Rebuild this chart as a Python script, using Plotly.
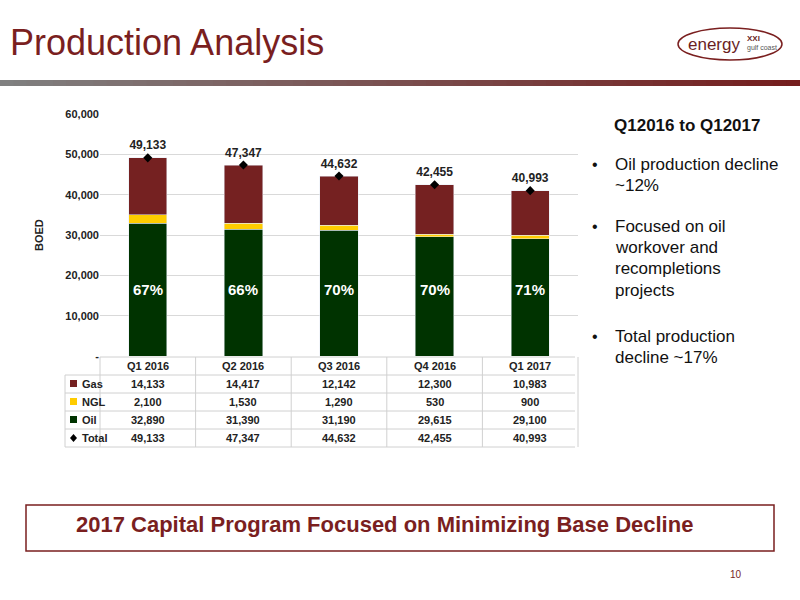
import plotly.graph_objects as go

quarters = ["Q1 2016", "Q2 2016", "Q3 2016", "Q4 2016", "Q1 2017"]
gas = [14133, 14417, 12142, 12300, 10983]
ngl = [2100, 1530, 1290, 530, 900]
oil = [32890, 31390, 31190, 29615, 29100]
total = [49133, 47347, 44632, 42455, 40993]
y_ticks = [0, 10000, 20000, 30000, 40000, 50000, 60000]
y_tick_text = ["-", "10,000", "20,000", "30,000", "40,000", "50,000", "60,000"]

C_OIL, C_NGL, C_GAS = "#003300", "#ffcc00", "#752121"
F = "Liberation Sans, Arial, sans-serif"

fig = go.Figure()
fig.add_bar(x=quarters, y=oil, marker_color=C_OIL, name="Oil")
fig.add_bar(x=quarters, y=ngl, marker_color=C_NGL, name="NGL")
fig.add_bar(x=quarters, y=gas, marker_color=C_GAS, name="Gas")
fig.add_scatter(x=quarters, y=total, mode="markers+text", marker=dict(symbol="diamond", size=7, color="black"),
                text=[f"<b>{v:,}</b>" for v in total], textposition="top center",
                textfont=dict(family=F, size=12, color="#222"), cliponaxis=False, name="Total")

W, H = 800, 600
X0, X1 = 100, 578
Y0, Y1 = 356, 114
fig.update_layout(
    width=W, height=H, margin=dict(l=0, r=0, t=0, b=0, autoexpand=False), barmode="stack", bargap=0.6,
    plot_bgcolor="white", paper_bgcolor="white", showlegend=False,
    xaxis=dict(domain=[X0 / W, X1 / W], showticklabels=False, showline=False),
    yaxis=dict(domain=[1 - Y0 / H, 1 - Y1 / H], range=[0, 60000], tickvals=y_ticks, ticktext=y_tick_text,
               showgrid=True, gridcolor="#d9d9d9", zeroline=False, ticks="", ticklen=0,
               tickfont=dict(family=F, size=11, color="#222", weight="bold")),
    font=dict(family=F),
)

ann = []
shapes = []
def A(x, y, t, **k):
    d = dict(x=x, y=y, text=t, showarrow=False, xref="paper", yref="paper", yanchor="middle")
    d.update(k)
    ann.append(d)

for q, o, t in zip(quarters, oil, total):
    ann.append(dict(x=q, y=16500, xref="x", yref="y", text=f"<b>{round(o / t * 100)}%</b>", showarrow=False,
                    font=dict(family=F, size=15, color="white")))

A(8 / W, 1 - 42 / H, "Production Analysis", xanchor="left", font=dict(family=F, size=36, color="#7a1f1f"))
A(31 / W, 1 - 235 / H, "<b>BOED</b>", textangle=-90, font=dict(family=F, size=11, color="#222"))

n = 60
for i in range(n):
    f = i / (n - 1)
    r = int(128 + (117 - 128) * f); g = int(128 + (30 - 128) * f); b = int(128 + (30 - 128) * f)
    shapes.append(dict(type="rect", xref="paper", yref="paper", x0=i / n, x1=(i + 1) / n + 0.002,
                       y0=1 - 86 / H, y1=1 - 80 / H, fillcolor=f"rgb({r},{g},{b})", line_width=0))

shapes.append(dict(type="circle", xref="paper", yref="paper", x0=678 / W, x1=782 / W, y0=1 - 60 / H, y1=1 - 28 / H,
                   line=dict(color="#7a1f1f", width=1.5)))
A(686 / W, 1 - 44 / H, "energy", xanchor="left", font=dict(family=F, size=17, color="#6b1f1f"))
A(745 / W, 1 - 38 / H, "<b>XXI</b>", xanchor="left", font=dict(family=F, size=8, color="#6b1f1f"))
A(745 / W, 1 - 48 / H, "gulf coast", xanchor="left", font=dict(family=F, size=7, color="#555"))

rows = [("Gas", gas, C_GAS, "square"), ("NGL", ngl, C_NGL, "square"), ("Oil", oil, C_OIL, "square"),
        ("Total", total, "black", "diamond")]
TL, TR = 65, 575
row_y = [366, 384, 402, 420, 438]
for k, ry in enumerate(row_y):
    yp = 1 - ry / H
    if k == 0:
        for q in quarters:
            ann.append(dict(x=q, y=yp, xref="x", yref="paper", yanchor="middle", text=f"<b>{q}</b>", showarrow=False,
                            font=dict(family=F, size=11, color="#222")))
    else:
        name, vals, col, sym = rows[k - 1]
        A(80 / W, yp, f"<b>{name}</b>", xanchor="left", font=dict(family=F, size=11, color="#222"))
        if sym == "square":
            shapes.append(dict(type="rect", xref="paper", yref="paper", x0=70 / W, x1=77 / W,
                               y0=1 - (ry + 3) / H, y1=1 - (ry - 4) / H, fillcolor=col, line_width=0))
        else:
            shapes.append(dict(type="path", xref="paper", yref="paper",
                               path=f"M {73.5/W} {1-(ry-4)/H} L {77/W} {1-ry/H} L {73.5/W} {1-(ry+4)/H} L {70/W} {1-ry/H} Z",
                               fillcolor="black", line_width=0))
        for q, v in zip(quarters, vals):
            ann.append(dict(x=q, y=yp, xref="x", yref="paper", yanchor="middle", text=f"<b>{v:,}</b>", showarrow=False,
                            font=dict(family=F, size=11, color="#222")))
for yy in [357, 375, 393, 411, 429, 447]:
    x0 = X0 if yy == 357 else TL
    shapes.append(dict(type="line", xref="paper", yref="paper", x0=x0 / W, x1=TR / W, y0=1 - yy / H, y1=1 - yy / H,
                       line=dict(color="#d0d0d0", width=1)))
for i in range(6):
    xx = X0 + i * (X1 - X0) / 5
    shapes.append(dict(type="line", xref="paper", yref="paper", x0=xx / W, x1=xx / W, y0=1 - 447 / H, y1=1 - 357 / H,
                       line=dict(color="#d0d0d0", width=1)))
shapes.append(dict(type="line", xref="paper", yref="paper", x0=TL / W, x1=TL / W, y0=1 - 447 / H, y1=1 - 375 / H,
                   line=dict(color="#d0d0d0", width=1)))

A(612 / W, 1 - 126 / H, "<b>Q12016 to Q12017</b>", xanchor="left", font=dict(family=F, size=17, color="#111"))
bul = [(164, ["Oil production decline", "~12%"]),
       (226, ["Focused on oil", "workover and", "recompletions", "projects"]),
       (336, ["Total production", "decline ~17%"])]
for y0, lines in bul:
    A(590 / W, 1 - y0 / H, "•", xanchor="left", font=dict(family=F, size=16, color="#111"))
    for j, l in enumerate(lines):
        A(613 / W, 1 - (y0 + j * 21.5) / H, l, xanchor="left", font=dict(family=F, size=17, color="#111"))

shapes.append(dict(type="rect", xref="paper", yref="paper", x0=26 / W, x1=774 / W, y0=1 - 551 / H, y1=1 - 505 / H,
                   line=dict(color="#7a1f1f", width=1.5), fillcolor="rgba(0,0,0,0)"))
A(0.48, 1 - 524 / H, "<b>2017 Capital Program Focused on Minimizing Base Decline</b>",
  font=dict(family=F, size=22, color="#7a1f1f"))
A(744 / W, 1 - 574 / H, "10", font=dict(family=F, size=10, color="#7a1f1f"))

fig.update_layout(annotations=ann, shapes=shapes)
fig.write_html("out.html", config={"displayModeBar": False},
               post_script="document.body.style.margin='0';document.body.style.overflow='hidden';")
